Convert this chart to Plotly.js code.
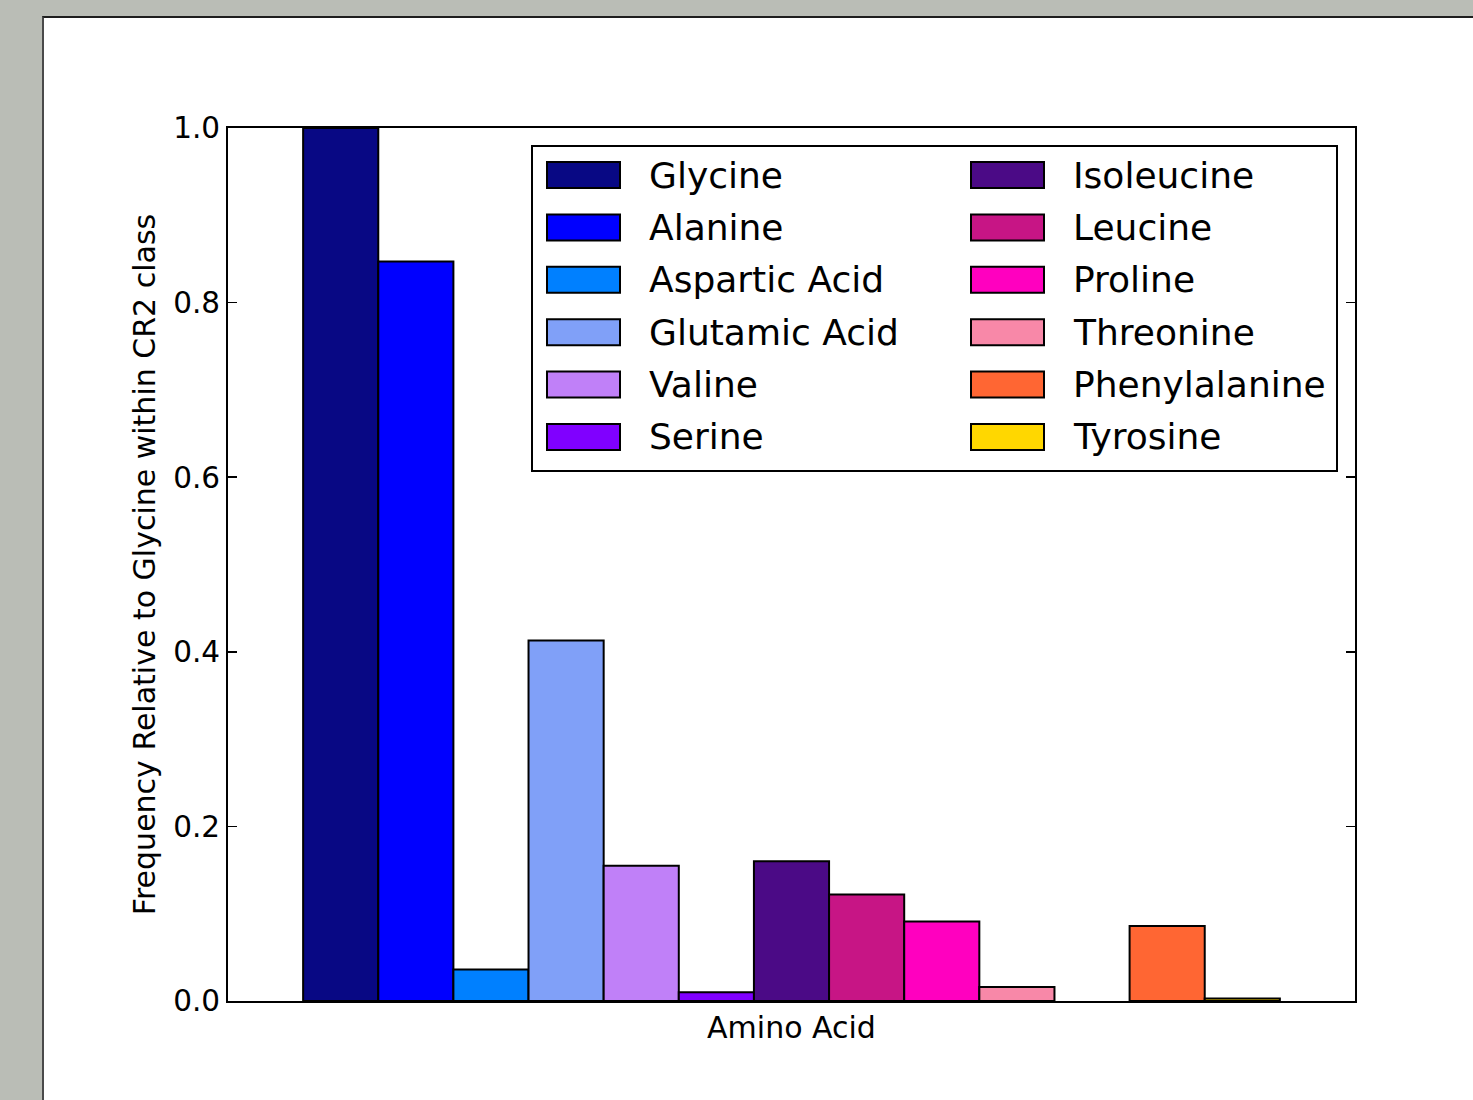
<!DOCTYPE html>
<html>
<head>
<meta charset="utf-8">
<script src="https://cdn.plot.ly/plotly-3.0.1.min.js"></script>
<style>
  html, body { margin: 0; padding: 0; width: 1473px; height: 1100px; overflow: hidden; background: #babdb6; }
  #sheet { position: absolute; left: 42px; top: 16px; width: 1431px; height: 1084px; background: #ffffff;
           border-left: 2px solid #4a4a4a; border-top: 2px solid #1e1e1e; }
  #chart { position: absolute; left: 0; top: 0; width: 1473px; height: 1100px; }
</style>
</head>
<body>
<div id="sheet"></div>
<div id="chart"></div>
<script>
// Relative frequency of each amino acid within the CR2 class (Glycine = 1)
const aminoAcids = ['Glycine', 'Alanine', 'Aspartic Acid', 'Glutamic Acid', 'Valine', 'Serine',
                    'Isoleucine', 'Leucine', 'Proline', 'Threonine', 'Phenylalanine', 'Tyrosine'];
const frequencies = [1.0, 0.847, 0.036, 0.413, 0.155, 0.010,
                     0.160, 0.122, 0.091, 0.016, 0.086, 0.003];
// slot index along the x axis (slot 10 is left empty)
const barSlots = [0, 1, 2, 3, 4, 5, 6, 7, 8, 9, 11, 12];
const barColors = ['#080884', '#0000ff', '#0080ff', '#80a0f8', '#c080f8', '#8000ff',
                   '#4b0a86', '#c71585', '#ff00bf', '#f888a8', '#ff6633', '#ffd700'];
const yTicks = [0.0, 0.2, 0.4, 0.6, 0.8, 1.0];

const FONT = 'DejaVu Sans, Liberation Sans, sans-serif';
const W = 1473, H = 1100;
const margin = { l: 228, r: 118, t: 128, b: 99 };
const plotW = W - margin.l - margin.r;
const plotH = H - margin.t - margin.b;

const traces = aminoAcids.map((name, i) => ({
  type: 'bar',
  name: name,
  x: [barSlots[i]],
  y: [frequencies[i]],
  width: [1],
  marker: { color: barColors[i], line: { color: '#000000', width: 2 } },
  showlegend: false,
  hoverinfo: 'name+y'
}));

// Two-column legend box drawn in paper coordinates
const px2x = px => (px - margin.l) / plotW;
const px2y = py => (H - margin.b - py) / plotH;
const shapes = [{
  type: 'rect', xref: 'paper', yref: 'paper',
  x0: px2x(532), x1: px2x(1337), y0: px2y(471), y1: px2y(146),
  line: { color: '#000000', width: 2 }, fillcolor: '#ffffff', layer: 'above'
}];
const annotations = [];
const colLeft = [547, 971];
const rowTop = 175, rowStep = 52.4, swW = 73, swH = 26;
aminoAcids.forEach((name, i) => {
  const col = Math.floor(i / 6), row = i % 6;
  const cy = rowTop + row * rowStep;
  shapes.push({
    type: 'rect', xref: 'paper', yref: 'paper',
    x0: px2x(colLeft[col]), x1: px2x(colLeft[col] + swW),
    y0: px2y(cy + swH / 2), y1: px2y(cy - swH / 2),
    fillcolor: barColors[i], line: { color: '#000000', width: 2 }, layer: 'above'
  });
  annotations.push({
    xref: 'paper', yref: 'paper', x: px2x(colLeft[col] + swW + 27), y: px2y(cy),
    xanchor: 'left', yanchor: 'middle', showarrow: false, text: name,
    font: { family: FONT, size: 36, color: '#000000' }
  });
});

const layout = {
  width: W, height: H,
  margin: margin,
  paper_bgcolor: 'rgba(0,0,0,0)',
  plot_bgcolor: '#ffffff',
  barmode: 'overlay',
  showlegend: false,
  font: { family: FONT, color: '#000000' },
  xaxis: {
    range: [-1.5, 13.5],
    showline: true, linecolor: '#000000', linewidth: 2, mirror: true,
    ticks: '', showticklabels: false, showgrid: false, zeroline: false,
    title: { text: 'Amino Acid', font: { family: FONT, size: 30, color: '#000000' }, standoff: 15 }
  },
  yaxis: {
    range: [0, 1],
    tickvals: yTicks, tickformat: '.1f',
    showline: true, linecolor: '#000000', linewidth: 2, mirror: 'ticks',
    ticks: 'inside', ticklen: 9, tickwidth: 1.5, tickcolor: '#000000',
    tickfont: { family: FONT, size: 29.5, color: '#000000' },
    showgrid: false, zeroline: false,
    title: { text: 'Frequency Relative to Glycine within CR2 class',
             font: { family: FONT, size: 30, color: '#000000' }, standoff: 9 }
  },
  shapes: shapes,
  annotations: annotations
};

Plotly.newPlot('chart', traces, layout, { displayModeBar: false, staticPlot: true });
</script>
</body>
</html>
